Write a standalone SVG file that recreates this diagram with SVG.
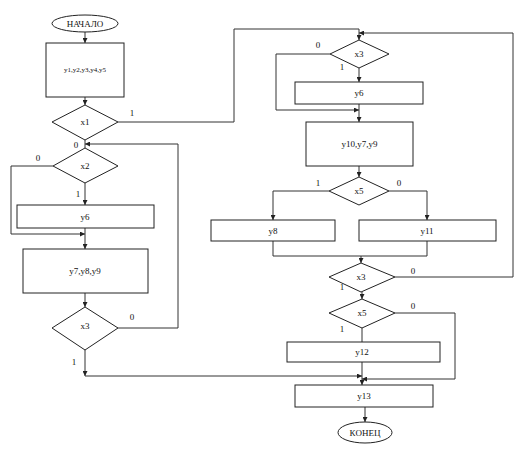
<svg xmlns="http://www.w3.org/2000/svg" width="518" height="452" viewBox="0 0 518 452">
<defs>
<marker id="ah" viewBox="0 0 10 10" refX="10" refY="5" markerWidth="5" markerHeight="5" orient="auto" markerUnits="userSpaceOnUse">
<path d="M0,0 L10,5 L0,10 z" fill="#222"/>
</marker>
<style>
.s{fill:#fff;stroke:#222;stroke-width:1}
.c{fill:none;stroke:#333;stroke-width:1}
.a{marker-end:url(#ah)}
text{font-family:"Liberation Serif","Times New Roman",serif;font-size:9px;fill:#111}
.m{text-anchor:middle;dominant-baseline:central}
</style>
</defs>
<rect width="518" height="452" fill="#fff"/>
<g id="connectors">
<path class="c a" d="M85,32 V43"/>
<path class="c a" d="M85,97 V105"/>
<path class="c" d="M85,140 V148"/>
<path class="c a" d="M178,144 H85"/>
<path class="c a" d="M85,183 V205"/>
<path class="c a" d="M53,166 H11 V234 H85"/>
<path class="c a" d="M85,228 V249"/>
<path class="c a" d="M85,293 V307"/>
<path class="c" d="M118,328 H178 V144"/>
<path class="c a" d="M85,350 V376"/>
<path class="c a" d="M85,376 H362"/>
<path class="c a" d="M118,122 H234 V29 H359 V40"/>
<path class="c a" d="M395,277 H513 V33 H359"/>
<path class="c a" d="M359,68 V82"/>
<path class="c a" d="M330,54 H276 V110 H359"/>
<path class="c a" d="M359,104 V122"/>
<path class="c a" d="M359,166 V177"/>
<path class="c a" d="M329,191 H273 V220"/>
<path class="c a" d="M389,191 H427 V220"/>
<path class="c" d="M273,241 V256 H427 V241"/>
<path class="c a" d="M361,256 V263"/>
<path class="c a" d="M362,292 V299"/>
<path class="c" d="M362,328 V342"/>
<path class="c a" d="M362,362 V385"/>
<path class="c a" d="M395,313 H455 V379 H362"/>
<path class="c a" d="M365,407 V422"/>
</g>
<g id="start"><ellipse class="s" cx="85" cy="23.5" rx="33" ry="8.5"/><text class="m" x="85" y="23.5">НАЧАЛО</text></g>
<g id="b1"><rect class="s" x="46" y="43" width="78" height="54"/><text class="m" x="85" y="70" style="font-size:7px">y1,y2,y3,y4,y5</text></g>
<g id="d_x1"><polygon class="s" points="85,105 118,122 85,140 52,122"/><text class="m" x="85" y="122">x1</text></g>
<g id="d_x2"><polygon class="s" points="85,148 118,166 85,183 53,166"/><text class="m" x="85" y="166">x2</text></g>
<g id="b_y6a"><rect class="s" x="17" y="205" width="137" height="23"/><text class="m" x="85" y="216.5">y6</text></g>
<g id="b_y789"><rect class="s" x="23" y="249" width="125" height="44"/><text class="m" x="85" y="271">y7,y8,y9</text></g>
<g id="d_x3a"><polygon class="s" points="85,307 118,328 85,350 52,328"/><text class="m" x="85" y="326">x3</text></g>
<g id="d_x3b"><polygon class="s" points="359,40 389,54 359,68 330,54"/><text class="m" x="359" y="54">x3</text></g>
<g id="b_y6b"><rect class="s" x="295" y="82" width="128" height="22"/><text class="m" x="359" y="93">y6</text></g>
<g id="b_y1079"><rect class="s" x="306" y="122" width="107" height="44"/><text class="m" x="359.5" y="144">y10,y7,y9</text></g>
<g id="d_x5a"><polygon class="s" points="359,177 389,191 359,205 329,191"/><text class="m" x="359" y="191">x5</text></g>
<g id="b_y8"><rect class="s" x="211" y="220" width="124" height="21"/><text class="m" x="273" y="230.5">y8</text></g>
<g id="b_y11"><rect class="s" x="359" y="220" width="137" height="21"/><text class="m" x="427" y="230.5">y11</text></g>
<g id="d_x3c"><polygon class="s" points="361,263 395,277 361,292 329,277"/><text class="m" x="361" y="277">x3</text></g>
<g id="d_x5b"><polygon class="s" points="362,299 395,313 362,328 329,313"/><text class="m" x="362" y="313">x5</text></g>
<g id="b_y12"><rect class="s" x="287" y="342" width="153" height="20"/><text class="m" x="362" y="352">y12</text></g>
<g id="b_y13"><rect class="s" x="295" y="385" width="138" height="22"/><text class="m" x="364" y="396">y13</text></g>
<g id="end"><ellipse class="s" cx="365" cy="432.5" rx="27" ry="10.5"/><text class="m" x="365" y="432.5">КОНЕЦ</text></g>
<g id="labels">
<text class="m" x="132" y="113">1</text>
<text class="m" x="76" y="145">0</text>
<text class="m" x="38" y="158">0</text>
<text class="m" x="78" y="194">1</text>
<text class="m" x="132" y="317">0</text>
<text class="m" x="74" y="362">1</text>
<text class="m" x="318" y="45">0</text>
<text class="m" x="342" y="67">1</text>
<text class="m" x="318" y="183">1</text>
<text class="m" x="399" y="183">0</text>
<text class="m" x="413" y="271">0</text>
<text class="m" x="342" y="287">1</text>
<text class="m" x="413" y="306">0</text>
<text class="m" x="342" y="329">1</text>
</g>
</svg>
